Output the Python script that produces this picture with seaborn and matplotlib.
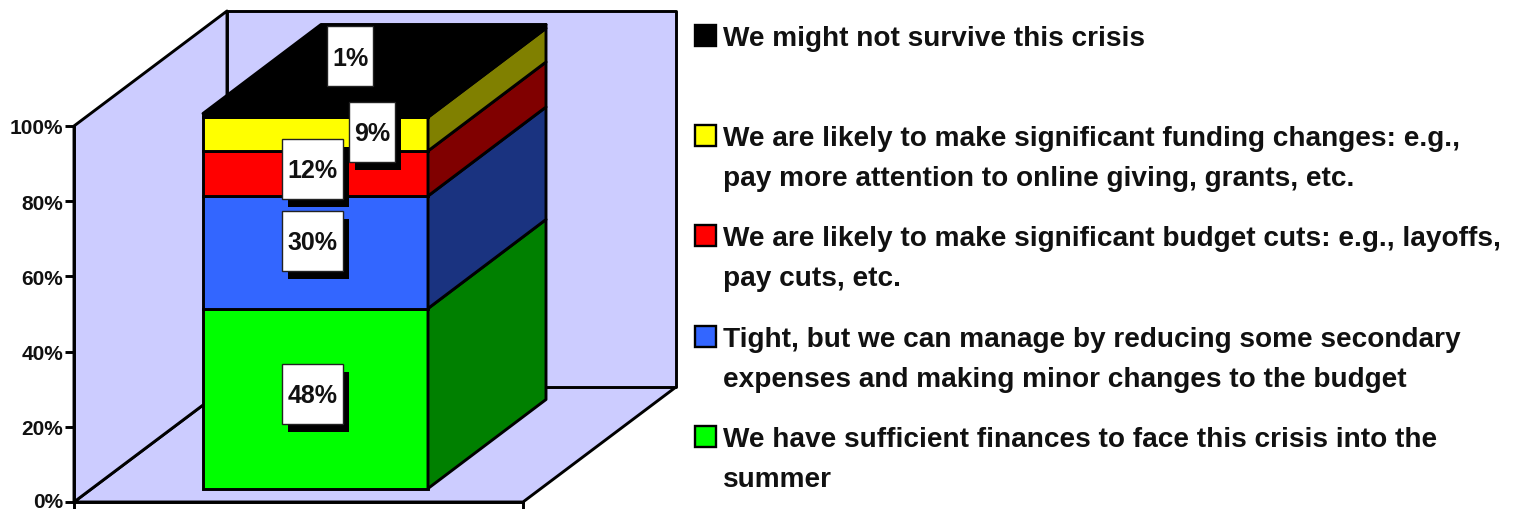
import matplotlib
matplotlib.use("Agg")
import matplotlib.pyplot as plt
from matplotlib.patches import Polygon, Rectangle
from matplotlib.transforms import ScaledTranslation
import seaborn as sns
import pandas as pd

W, H = 1514, 510
FONT = ["Liberation Sans", "DejaVu Sans"]

# ---- data (bottom to top of the stack) ----
values = [48, 30, 12, 9, 1]
value_labels = ["48%", "30%", "12%", "9%", "1%"]
front_colors = ["#00FF00", "#3366FF", "#FF0000", "#FFFF00", "#000000"]
side_colors = ["#008000", "#1A3380", "#800000", "#808000", "#000000"]
y_ticks = [0, 20, 40, 60, 80, 100]

legend_lines = [
    ["We might not survive this crisis"],
    ["We are likely to make significant funding changes: e.g.,",
     "pay more attention to online giving, grants, etc."],
    ["We are likely to make significant budget cuts: e.g., layoffs,",
     "pay cuts, etc."],
    ["Tight, but we can manage by reducing some secondary",
     "expenses and making minor changes to the budget"],
    ["We have sufficient finances to face this crisis into the",
     "summer"],
]
legend_colors = ["#000000", "#FFFF00", "#FF0000", "#3366FF", "#00FF00"]

# ---- layout in reference pixels (style, not data) ----
LW = 2.1
WALL = "#CCCCFF"
plane = (74, 523, 127, 503)      # front plane of the chart box
bar_box = (203, 428, 114.5, 489.5)   # front face of the column
depth = (153, 115)               # wall depth
bar_depth = (118, 89)            # column depth
label_boxes = [(282, 365, 61, 60), (282, 212, 61, 60), (282, 140, 61, 60),
               (349, 103, 46, 60), (327, 27, 46, 60)]
legend_y = [36, 136, 236, 337, 437]
legend_line_h = 40


def rect(l, r, t, b):
    return [l / W, 1 - b / H, (r - l) / W, (b - t) / H]


sns.set_theme(style="white", rc={"font.family": FONT})
plt.rcParams["font.family"] = FONT
plt.rcParams["font.weight"] = "bold"

fig = plt.figure(figsize=(W / 100, H / 100), dpi=100, facecolor="white")

# --- chart box: axis, walls, floor ---
ax = fig.add_axes(rect(*plane))
ax.set_ylim(0, 100)
ax.set_xlim(0, 1)
ax.patch.set_visible(False)
ax.set_xticks([0, 1])
ax.set_xticklabels(["", ""])
ax.set_yticks(y_ticks)
ax.set_yticklabels([f"{t}%" for t in y_ticks], fontsize=15, fontweight="bold",
                   color="#111111")
ax.tick_params(axis="both", length=6.5, width=LW, color="black", pad=1.5,
               left=True, bottom=True)
# keep the lowest tick label inside the picture
zero_label = ax.get_yticklabels()[0]
zero_label.set_transform(zero_label.get_transform() + ScaledTranslation(0, 1.5 / 72, fig.dpi_scale_trans))
for s in ("top", "right"):
    ax.spines[s].set_visible(False)
for s in ("left", "bottom"):
    ax.spines[s].set_linewidth(LW)
    ax.spines[s].set_color("black")
    ax.spines[s].set_zorder(6)

pw, ph = plane[1] - plane[0], plane[3] - plane[2]
dx, dy = depth[0] / pw, depth[1] / ph * 100
poly_kw = dict(closed=True, ec="black", lw=LW, clip_on=False, joinstyle="round")
ax.add_patch(Polygon([(0, 0), (1, 0), (1 + dx, dy), (dx, dy)], fc=WALL, zorder=1, **poly_kw))
ax.add_patch(Polygon([(0, 0), (dx, dy), (dx, 100 + dy), (0, 100)], fc=WALL, zorder=1, **poly_kw))
ax.add_patch(Polygon([(dx, dy), (1 + dx, dy), (1 + dx, 100 + dy), (dx, 100 + dy)], fc=WALL, zorder=1, **poly_kw))

# --- column ---
ax2 = fig.add_axes(rect(*bar_box))
ax2.patch.set_visible(False)
ax2.set_axis_off()

df = pd.DataFrame({"value": values, "group": ["all"] * len(values)})
bottom = 0
bw, bh = bar_box[1] - bar_box[0], bar_box[3] - bar_box[2]
bdx, bdy = bar_depth[0] / bw, bar_depth[1] / bh * 100
x0, x1 = -0.5, 0.5
for i, v in enumerate(values):
    sub = df.iloc[[i]]
    sns.barplot(data=sub, x="group", y="value", color=front_colors[i], saturation=1,
                width=1, bottom=bottom, edgecolor="black", linewidth=LW, ax=ax2,
                errorbar=None, clip_on=False, zorder=3)
    ax2.add_patch(Polygon([(x1, bottom), (x1 + bdx, bottom + bdy), (x1 + bdx, bottom + v + bdy),
                           (x1, bottom + v)], fc=side_colors[i], zorder=3, **poly_kw))
    bottom += v
ax2.add_patch(Polygon([(x0, bottom), (x1, bottom), (x1 + bdx, bottom + bdy), (x0 + bdx, bottom + bdy)],
                      fc=side_colors[-1], zorder=3, **poly_kw))
ax2.set_xlim(x0, x1)
ax2.set_ylim(0, 100)
ax2.set_axis_off()


def fig_rect(l, t, w, h, **kw):
    fig.add_artist(Rectangle((l / W, 1 - (t + h) / H), w / W, h / H,
                             transform=fig.transFigure, **kw))


# --- value labels ---
for lab, (l, t, w, h) in zip(value_labels, label_boxes):
    fig_rect(l + 6, t + 8, w, h, fc="black", ec="none", zorder=10)
    fig_rect(l, t, w, h, fc="white", ec="#222222", lw=1.0, zorder=11)
    fig.text((l + w / 2) / W, 1 - (t + h / 2 + 1.5) / H, lab, ha="center", va="center",
             fontsize=18, fontweight="bold", color="#111111", zorder=12)

# --- legend ---
for lines, col, yc in zip(legend_lines, legend_colors, legend_y):
    fig_rect(695, yc - 10, 21, 20.5, fc=col, ec="black", lw=1.7, zorder=10)
    for k, line in enumerate(lines):
        fig.text(723 / W, 1 - (yc + k * legend_line_h) / H, line, ha="left", va="center_baseline",
                 fontsize=20.2, fontweight="bold", color="#111111", zorder=12)

fig.savefig("out.png", dpi=100)
